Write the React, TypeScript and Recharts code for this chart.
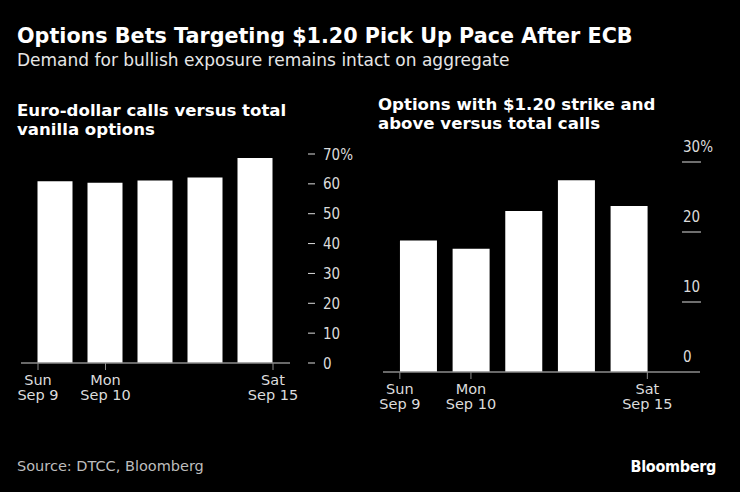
import React from 'react';
import { BarChart, Bar, XAxis, YAxis } from 'recharts';

const positions = [0, 1, 2, 3, 4];
const callsShare = [60.9, 60.4, 61.1, 62.1, 68.7];
const strikeShare = [18.8, 17.6, 23.0, 27.4, 23.7];
const xTickPos = [-0.35, 1, 4.35];
const xTickLabels = [['Sun', 'Sep 9'], ['Mon', 'Sep 10'], ['Sat', 'Sep 15']];
const leftYTicks = [0, 10, 20, 30, 40, 50, 60, 70];
const rightYTicks = [0, 10, 20, 30];

const leftData = positions.map((p, i) => ({ pos: p, value: callsShare[i] }));
const rightData = positions.map((p, i) => ({ pos: p, value: strikeShare[i] }));

const FONT = '"DejaVu Sans", sans-serif';
const FONT_C = '"DejaVu Sans Condensed", "DejaVu Sans", sans-serif';
const AXIS_GRAY = '#8c8c8c';
const LABEL = '#dcdcdc';

const XTick = (props: any) => {
  const { x, y, payload } = props;
  const idx = xTickPos.indexOf(payload.value);
  const lines = idx >= 0 ? xTickLabels[idx] : [];
  return (
    <g>
      <line x1={x} x2={x} y1={y} y2={y + 7} stroke={AXIS_GRAY} strokeWidth={1} />
      <text x={x} y={y + 22} textAnchor="middle" fill={LABEL} fontSize={14.5} fontFamily={FONT}>
        <tspan x={x} dy={0}>{lines[0]}</tspan>
        <tspan x={x} dy={15}>{lines[1]}</tspan>
      </text>
    </g>
  );
};

const LeftYTick = (props: any) => {
  const { x, y, payload } = props;
  const label = payload.value === 70 ? '70%' : String(payload.value);
  return (
    <g>
      <line x1={x + 18} x2={x + 25} y1={y} y2={y} stroke={LABEL} strokeWidth={1} />
      <text x={x + 33} y={y + 5.5} textAnchor="start" fill={LABEL} fontSize={15} fontFamily={FONT_C}>
        {label}
      </text>
    </g>
  );
};

const RightYTick = (props: any) => {
  const { x, y, payload } = props;
  const label = payload.value === 30 ? '30%' : String(payload.value);
  return (
    <g>
      {payload.value !== 0 && (
        <line x1={x - 18} x2={x + 1} y1={y} y2={y} stroke={LABEL} strokeWidth={1} />
      )}
      <text x={x - 17} y={y - 10} textAnchor="start" fill={LABEL} fontSize={15} fontFamily={FONT_C}>
        {label}
      </text>
    </g>
  );
};

export default function App() {
  return (
    <div
      style={{
        position: 'absolute',
        left: 0,
        top: 0,
        width: 740,
        height: 492,
        background: '#000',
        overflow: 'hidden',
        fontFamily: FONT,
      }}
    >
      <div style={{ position: 'absolute', left: 17, top: 24, color: '#fff', fontSize: 20.7, fontWeight: 'bold', whiteSpace: 'nowrap', lineHeight: '24px' }}>
        Options Bets Targeting $1.20 Pick Up Pace After ECB
      </div>
      <div style={{ position: 'absolute', left: 17, top: 50, color: '#e6e6e6', fontSize: 17, whiteSpace: 'nowrap', lineHeight: '20px' }}>
        Demand for bullish exposure remains intact on aggregate
      </div>
      <div style={{ position: 'absolute', left: 17, top: 101, color: '#fff', fontSize: 16.6, fontWeight: 'bold', lineHeight: '19px', whiteSpace: 'nowrap' }}>
        Euro-dollar calls versus total
        <br />
        vanilla options
      </div>
      <div style={{ position: 'absolute', left: 378, top: 95, color: '#fff', fontSize: 16.6, fontWeight: 'bold', lineHeight: '19px', whiteSpace: 'nowrap' }}>
        Options with $1.20 strike and
        <br />
        above versus total calls
      </div>

      <div style={{ position: 'absolute', left: 0, top: 0 }}>
        <BarChart
          width={370}
          height={420}
          data={leftData}
          margin={{ top: 154, right: 20, bottom: 17, left: 21 }}
        >
          <XAxis
            dataKey="pos"
            type="number"
            domain={[-0.69, 4.69]}
            ticks={xTickPos}
            interval={0}
            tick={<XTick />}
            tickLine={false}
            tickSize={0}
            tickMargin={0}
            height={40}
            axisLine={{ stroke: AXIS_GRAY, strokeWidth: 1.5 }}
            allowDataOverflow
          />
          <YAxis
            orientation="right"
            domain={[0, 70]}
            ticks={leftYTicks}
            interval={0}
            tick={<LeftYTick />}
            tickLine={false}
            tickSize={0}
            tickMargin={0}
            axisLine={false}
            width={60}
          />
          <Bar dataKey="value" fill="#fff" barSize={35} isAnimationActive={false} />
        </BarChart>
      </div>

      <div style={{ position: 'absolute', left: 370, top: 0 }}>
        <BarChart
          width={370}
          height={430}
          data={rightData}
          margin={{ top: 162, right: 10, bottom: 18, left: 13 }}
        >
          <XAxis
            dataKey="pos"
            type="number"
            domain={[-0.67, 5.35]}
            ticks={xTickPos}
            interval={0}
            tick={<XTick />}
            tickLine={false}
            tickSize={0}
            tickMargin={0}
            height={40}
            axisLine={{ stroke: AXIS_GRAY, strokeWidth: 1.5 }}
            allowDataOverflow
          />
          <YAxis
            orientation="right"
            domain={[0, 30]}
            ticks={rightYTicks}
            interval={0}
            tick={<RightYTick />}
            tickLine={false}
            tickSize={0}
            tickMargin={0}
            axisLine={false}
            width={30}
          />
          <Bar dataKey="value" fill="#fff" barSize={37} isAnimationActive={false} />
        </BarChart>
      </div>

      <div style={{ position: 'absolute', left: 17, top: 458, color: '#bdbdbd', fontSize: 14.5, whiteSpace: 'nowrap' }}>
        Source: DTCC, Bloomberg
      </div>
      <div style={{ position: 'absolute', right: 24, top: 457, color: '#fff', fontSize: 16, fontWeight: 'bold', whiteSpace: 'nowrap', letterSpacing: -0.3, fontFamily: FONT_C }}>
        Bloomberg
      </div>
    </div>
  );
}
